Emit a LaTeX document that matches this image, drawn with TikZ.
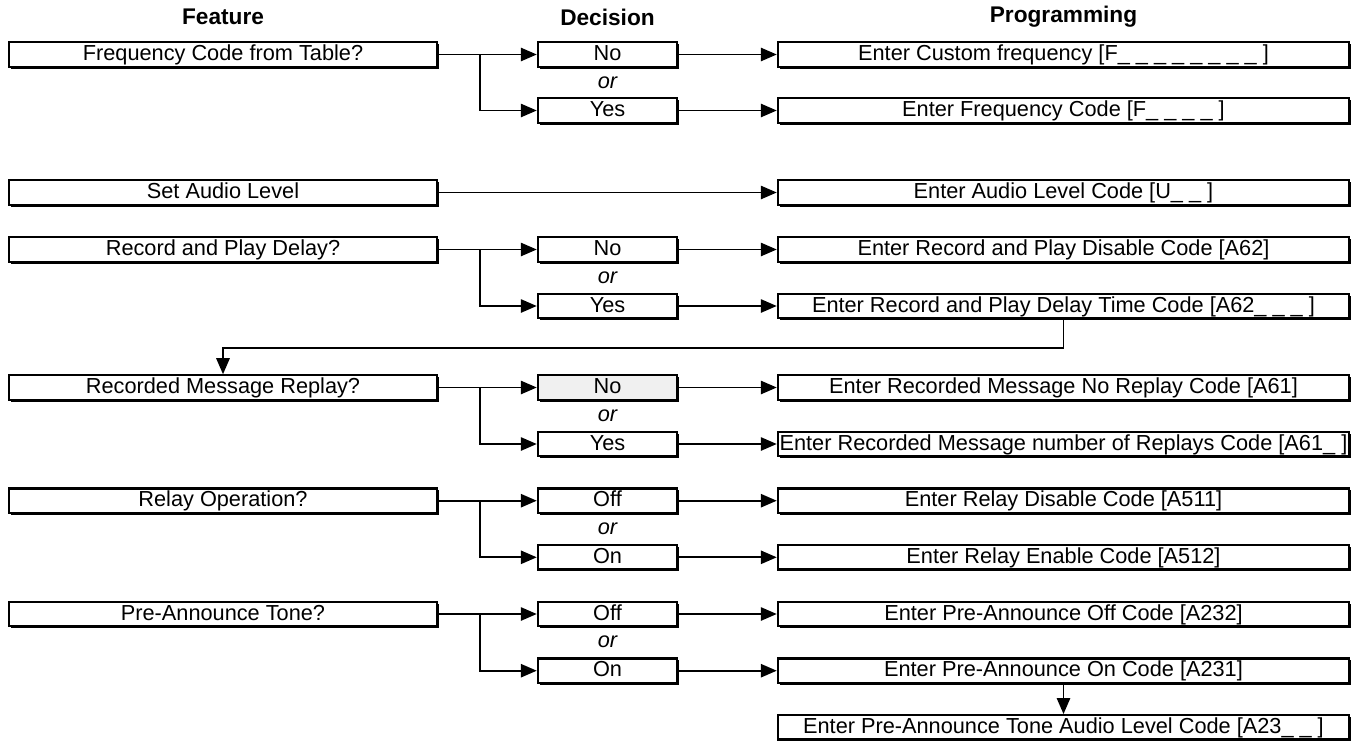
\documentclass[tikz,border=0pt]{standalone}
\usepackage{fontspec}
\setmainfont{Liberation Sans}
\usetikzlibrary{arrows.meta,shadows}
\begin{document}
\begin{tikzpicture}[x=0.75pt,y=-0.75pt,
  font=\fontsize{16.3}{18}\selectfont,
  box/.style={draw=black, line width=1.6pt, fill=white, inner sep=0pt,
    minimum height=18.3pt, anchor=center, text height=11.6pt, text depth=2.4pt,
    drop shadow={shadow xshift=1.4pt, shadow yshift=-1.4pt, fill=black, opacity=1}},
  featbox/.style={box, minimum width=321pt},
  decbox/.style={box, minimum width=104.5pt},
  progbox/.style={box, minimum width=428.5pt},
  conn/.style={line width=1.4pt, -{Triangle[length=12pt,width=10pt]}},
  head/.style={font=\fontsize{17}{18}\selectfont\bfseries},
  ortext/.style={font=\fontsize{16.3}{18}\selectfont\itshape}]
\useasboundingbox (0,0) rectangle (1353,746);

% headers
\node[head] (hf) at (223,17) {Feature};
\node[head] (hd) at (607.5,17) {Decision};
\node[head] (hp) at (1063.5,17) {Programming};

% Row group 1
\node[featbox] (f1) at (223,54.5) {Frequency Code from Table?};
\node[decbox] (d1n) at (607.5,54.5) {No};
\node[ortext] (o1) at (607.5,82.5) {or};
\node[decbox] (d1y) at (607.5,110.5) {Yes};
\node[progbox] (p1n) at (1063.5,54.5) {Enter Custom frequency [F\_ \_ \_ \_ \_ \_ \_ \_ ]};
\node[progbox] (p1y) at (1063.5,110.5) {Enter Frequency Code [F\_ \_ \_ \_ ]};
\coordinate (b1) at (480,54.5);
\draw[conn] (f1.east) -- (d1n.west);
\draw[conn] (b1) |- (d1y.west);
\draw[conn] (d1n.east) -- (p1n.west);
\draw[conn] (d1y.east) -- (p1y.west);

% Audio
\node[featbox] (fa) at (223,192.5) {Set Audio Level};
\node[progbox] (pa) at (1063.5,192.5) {Enter Audio Level Code [U\_ \_ ]};
\draw[conn] (fa.east) -- (pa.west);

% Record and play
\node[featbox] (f2) at (223,249.5) {Record and Play Delay?};
\node[decbox] (d2n) at (607.5,249.5) {No};
\node[ortext] (o2) at (607.5,277.5) {or};
\node[decbox] (d2y) at (607.5,306) {Yes};
\node[progbox] (p2n) at (1063.5,249.5) {Enter Record and Play Disable Code [A62]};
\node[progbox] (p2y) at (1063.5,306) {Enter Record and Play Delay Time Code [A62\_ \_ \_ ]};
\coordinate (b2) at (480,249.5);
\draw[conn] (f2.east) -- (d2n.west);
\draw[conn] (b2) |- (d2y.west);
\draw[conn] (d2n.east) -- (p2n.west);
\draw[conn] (d2y.east) -- (p2y.west);

% Recorded message
\node[featbox] (f3) at (223,387.5) {Recorded Message Replay?};
\node[decbox, fill=black!6] (d3n) at (607.5,387.5) {No};
\node[ortext] (o3) at (607.5,415.5) {or};
\node[decbox] (d3y) at (607.5,444) {Yes};
\node[progbox] (p3n) at (1063.5,387.5) {Enter Recorded Message No Replay Code [A61]};
\node[progbox] (p3y) at (1063.5,444) {Enter Recorded Message number of Replays Code [A61\_ ]};
\coordinate (b3) at (480,387.5);
\coordinate (lp) at (1063.5,348);
\draw[conn] (p2y.south) -- (lp) -| (f3.north);
\draw[conn] (f3.east) -- (d3n.west);
\draw[conn] (b3) |- (d3y.west);
\draw[conn] (d3n.east) -- (p3n.west);
\draw[conn] (d3y.east) -- (p3y.west);

% Relay
\node[featbox] (f4) at (223,500.7) {Relay Operation?};
\node[decbox] (d4n) at (607.5,500.7) {Off};
\node[ortext] (o4) at (607.5,528.7) {or};
\node[decbox] (d4y) at (607.5,557.3) {On};
\node[progbox] (p4n) at (1063.5,500.7) {Enter Relay Disable Code [A511]};
\node[progbox] (p4y) at (1063.5,557.3) {Enter Relay Enable Code [A512]};
\coordinate (b4) at (480,500.7);
\draw[conn] (f4.east) -- (d4n.west);
\draw[conn] (b4) |- (d4y.west);
\draw[conn] (d4n.east) -- (p4n.west);
\draw[conn] (d4y.east) -- (p4y.west);

% Pre-announce
\node[featbox] (f5) at (223,614) {Pre-Announce Tone?};
\node[decbox] (d5n) at (607.5,614) {Off};
\node[ortext] (o5) at (607.5,642) {or};
\node[decbox] (d5y) at (607.5,670.7) {On};
\node[progbox] (p5n) at (1063.5,614) {Enter Pre-Announce Off Code [A232]};
\node[progbox] (p5y) at (1063.5,670.7) {Enter Pre-Announce On Code [A231]};
\node[progbox] (p5t) at (1063.5,727.3) {Enter Pre-Announce Tone Audio Level Code [A23\_ \_ ]};
\coordinate (b5) at (480,614);
\draw[conn] (f5.east) -- (d5n.west);
\draw[conn] (b5) |- (d5y.west);
\draw[conn] (d5n.east) -- (p5n.west);
\draw[conn] (d5y.east) -- (p5y.west);
\draw[conn] (p5y.south) -- (p5t.north);
\end{tikzpicture}
\end{document}
